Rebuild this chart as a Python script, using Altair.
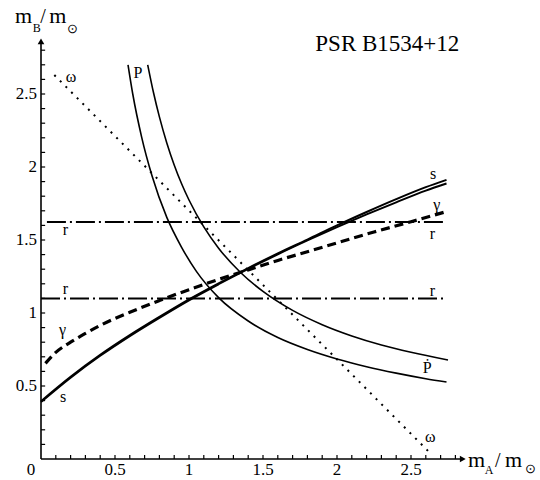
import altair as alt
import pandas as pd

# ---------------- data ----------------
# P-dot curves (two solid decreasing curves)
pdot1_x = [0.588, 0.62, 0.68, 0.75, 0.85, 0.95, 1.05, 1.2, 1.4, 1.6, 1.8, 2.0, 2.2, 2.4, 2.6, 2.74]
pdot1_y = [2.700, 2.50, 2.205, 1.94, 1.655, 1.45, 1.285, 1.105, 0.945, 0.832, 0.750, 0.685, 0.632, 0.588, 0.550, 0.527]
pdot2_x = [0.721, 0.76, 0.80, 0.85, 0.90, 0.95, 1.0, 1.1, 1.2, 1.35, 1.5, 1.7, 1.9, 2.1, 2.3, 2.5, 2.75]
pdot2_y = [2.700, 2.51, 2.343, 2.165, 2.014, 1.885, 1.774, 1.59, 1.444, 1.276, 1.148, 1.018, 0.920, 0.843, 0.781, 0.731, 0.678]

# omega (dotted straight line)
omega_x = [0.09, 2.62]
omega_y = [2.63, 0.05]

# s (two nearly coincident solid curves)
s_x = [0.0, 0.2, 0.4, 0.6, 0.8, 1.0, 1.2, 1.4, 1.6, 1.8, 2.0, 2.2, 2.4, 2.6, 2.74]
s_hi = [0.396, 0.563, 0.713, 0.848, 0.973, 1.093, 1.203, 1.308, 1.408, 1.503, 1.600, 1.692, 1.780, 1.862, 1.912]
s_lo = [0.390, 0.557, 0.707, 0.842, 0.967, 1.087, 1.197, 1.302, 1.402, 1.497, 1.588, 1.675, 1.758, 1.838, 1.887]

# gamma (dashed)
g_x = [0.03, 0.1, 0.2, 0.3, 0.4, 0.6, 0.8, 1.0, 1.2, 1.4, 1.6, 1.8, 2.0, 2.25, 2.5, 2.74]
g_y = [0.655, 0.73, 0.80, 0.86, 0.915, 1.005, 1.085, 1.16, 1.23, 1.295, 1.36, 1.42, 1.48, 1.555, 1.625, 1.695]

# r (two dash-dot horizontal lines)
r_levels = [1.623, 1.100]
r_start = [0.04, 0.0]
r_end = [2.74, 2.74]

# tick labels
tick_vals = [0.5, 1, 1.5, 2, 2.5]
tick_text = ["0.5", "1", "1.5", "2", "2.5"]

# curve labels
lab_text = ["ω", "ω", "P", "Ṗ", "s", "s", "γ", "γ", "r", "r", "r", "r"]
lab_x = [0.203, 2.630, 0.655, 2.610, 0.150, 2.650, 0.145, 2.675, 0.165, 2.645, 0.165, 2.645]
lab_y = [2.616, 0.151, 2.644, 0.623, 0.425, 1.952, 0.884, 1.740, 1.568, 1.541, 1.164, 1.151]

# ---------------- chart ----------------
FONT = "Liberation Serif"
xs = alt.Scale(domain=[0, 3.0], nice=False, zero=False)
ys = alt.Scale(domain=[0, 3.0], nice=False, zero=False)


def X(f="x"):
    return alt.X(f, type="quantitative", scale=xs, axis=None)


def Y(f="y"):
    return alt.Y(f, type="quantitative", scale=ys, axis=None)


def curve(xv, yv, name):
    return pd.DataFrame({"x": xv, "y": yv, "c": name})


pdot_df = pd.concat([curve(pdot1_x, pdot1_y, "p1"), curve(pdot2_x, pdot2_y, "p2")])
s_df = pd.concat([curve(s_x, s_hi, "hi"), curve(s_x, s_lo, "lo")])
g_df = curve(g_x, g_y, "g")
om_df = curve(omega_x, omega_y, "w")
r_df = pd.DataFrame({"x": r_start, "x2": r_end, "y": r_levels})

pdot = alt.Chart(pdot_df).mark_line(color="black", strokeWidth=1.6, interpolate="monotone").encode(
    x=X(), y=Y(), detail="c:N")
s_lines = alt.Chart(s_df).mark_line(color="black", strokeWidth=2.0, interpolate="monotone").encode(
    x=X(), y=Y(), detail="c:N")
gamma = alt.Chart(g_df).mark_line(color="black", strokeWidth=3.2, strokeDash=[9, 5],
                                  interpolate="monotone").encode(x=X(), y=Y())
omega = alt.Chart(om_df).mark_line(color="black", strokeWidth=2, strokeDash=[2, 6]).encode(x=X(), y=Y())
rlines = alt.Chart(r_df).mark_rule(color="black", strokeWidth=2, strokeDash=[19, 4, 2, 4]).encode(
    x=X("x"), x2="x2:Q", y=Y("y"))

# axes drawn as lines with arrows and inward ticks
axis_df = pd.DataFrame({"x": [0.0], "x2": [2.84], "y": [0.0]})
yaxis_df = pd.DataFrame({"x": [0.0], "y": [0.0], "y2": [2.85]})
xaxis = alt.Chart(axis_df).mark_rule(color="black", strokeWidth=1.6).encode(x=X("x"), x2="x2:Q", y=Y("y"))
yaxis = alt.Chart(yaxis_df).mark_rule(color="black", strokeWidth=1.6).encode(x=X("x"), y=Y("y"), y2="y2:Q")
arrows_df = pd.DataFrame({"x": [2.85, 0.0], "y": [0.0, 2.86], "shape": ["triangle-right", "triangle-up"]})
arrows = alt.Chart(arrows_df).mark_point(filled=True, color="black", size=45, opacity=1).encode(
    x=X(), y=Y(), shape=alt.Shape("shape:N", scale=None))

minor = [round(0.1 * i, 1) for i in range(1, 29)]
xt_df = pd.DataFrame({"x": minor, "y": [0.0] * len(minor), "y2": [0.028] * len(minor)})
yt_df = pd.DataFrame({"y": minor, "x": [0.0] * len(minor), "x2": [0.028] * len(minor)})
xticks = alt.Chart(xt_df).mark_rule(color="black", strokeWidth=1.2).encode(x=X("x"), y=Y("y"), y2="y2:Q")
yticks = alt.Chart(yt_df).mark_rule(color="black", strokeWidth=1.2).encode(x=X("x"), x2="x2:Q", y=Y("y"))

xlab_df = pd.DataFrame({"x": tick_vals, "y": [0.0] * 5, "t": tick_text})
xlabels = alt.Chart(xlab_df).mark_text(font=FONT, fontSize=17, baseline="top", dy=3, align="center",
                                       color="black").encode(x=X(), y=Y(), text="t:N")
zero_df = pd.DataFrame({"x": [0.0], "y": [0.0], "t": ["0"]})
zero_lab = alt.Chart(zero_df).mark_text(font=FONT, fontSize=17, baseline="top", dy=3, dx=-10,
                                        align="center", color="black").encode(x=X(), y=Y(), text="t:N")
ylab_df = pd.DataFrame({"y": tick_vals, "x": [0.0] * 5, "t": tick_text})
ylabels = alt.Chart(ylab_df).mark_text(font=FONT, fontSize=17, baseline="middle", align="right", dx=-4,
                                       color="black").encode(x=X(), y=Y(), text="t:N")

lab_df = pd.DataFrame({"x": lab_x, "y": lab_y, "t": lab_text})
labels = alt.Chart(lab_df).mark_text(font=FONT, fontSize=16, color="black", baseline="middle",
                                     align="center").encode(x=X(), y=Y(), text="t:N")

# title and axis titles (pieces so that subscripts can be drawn)
ann_text = ["PSR B1534+12", "m", "B", "/", "m", "⊙", "m", "A", "/", "m", "⊙"]
ann_x = [2.34, -0.175, -0.055, -0.005, 0.055, 0.175, 2.885, 2.998, 3.068, 3.135, 3.272]
ann_y = [2.84, 2.986, 2.925, 2.986, 2.986, 2.92, -0.055, -0.105, -0.055, -0.055, -0.095]
ann_size = [23, 22, 12, 20, 22, 13, 22, 12, 20, 22, 13]
ann_df = pd.DataFrame({"x": ann_x, "y": ann_y, "t": ann_text, "s": ann_size})
title_txt = alt.Chart(ann_df.iloc[:1]).mark_text(font=FONT, color="black", baseline="middle",
                                                 align="center").encode(
    x=X(), y=Y(), text="t:N", size=alt.Size("s:Q", scale=None))
axis_titles = alt.Chart(ann_df.iloc[1:]).mark_text(font=FONT, color="black", baseline="alphabetic",
                                                   align="left").encode(
    x=X(), y=Y(), text="t:N", size=alt.Size("s:Q", scale=None))

chart = alt.layer(
    omega, rlines, pdot, gamma, s_lines, xaxis, yaxis, arrows, xticks, yticks,
    xlabels, zero_lab, ylabels, labels, title_txt, axis_titles
).properties(
    width=444, height=438,
    padding={"left": 41, "top": 21, "right": 55, "bottom": 21},
    autosize=alt.AutoSizeParams(type="none"),
    background="white",
).configure_view(stroke=None)

chart.save("out.html", embed_options={"renderer": "svg", "actions": False})
